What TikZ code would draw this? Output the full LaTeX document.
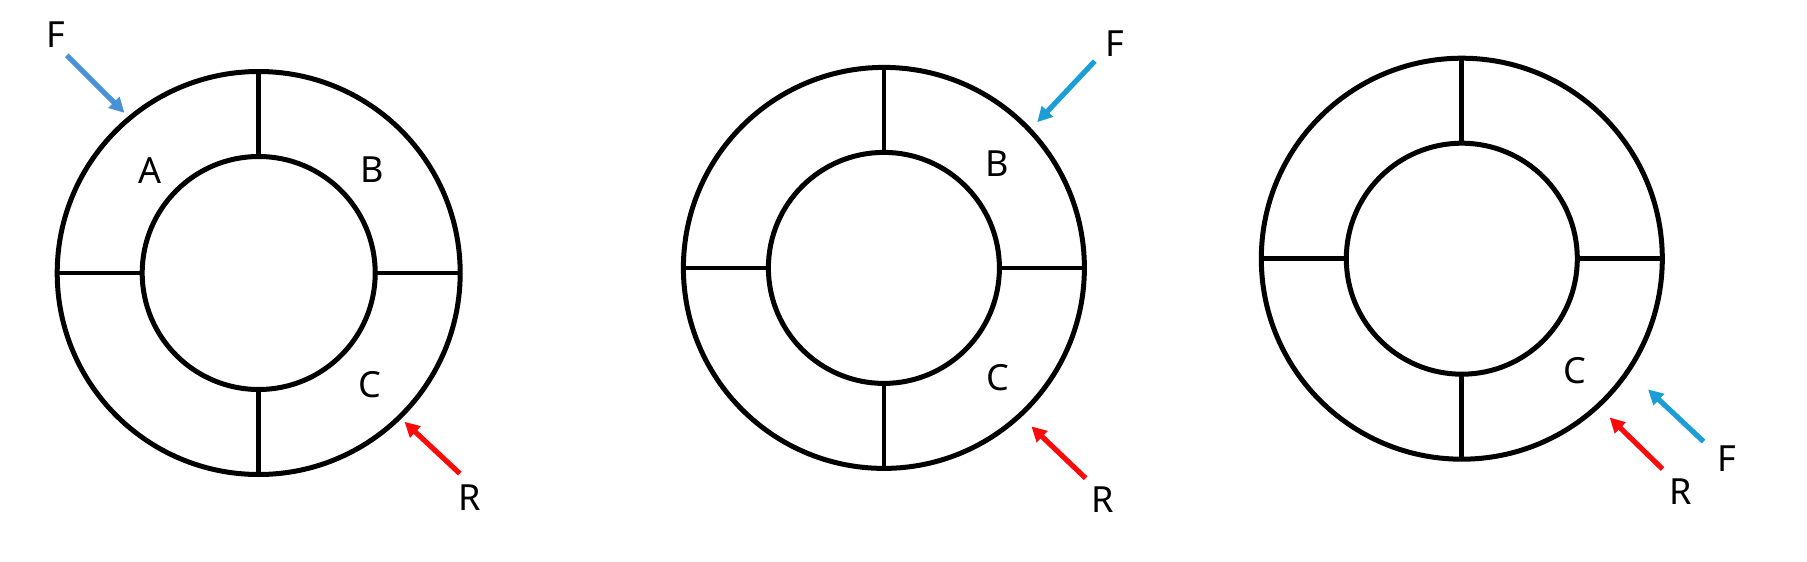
\documentclass[tikz,border=0pt]{standalone}
\usepackage{fontspec}
\setmainfont{Noto Sans}
\usetikzlibrary{arrows.meta}
\definecolor{blueA}{RGB}{74,146,216}
\definecolor{blueB}{RGB}{27,158,214}
\definecolor{redR}{RGB}{250,10,10}
\begin{document}
\begin{tikzpicture}[x=1pt,y=-1pt,
  ring/.style={circle,draw=black,line width=5pt,inner sep=0pt,outer sep=0pt,minimum size=#1},
  spoke/.style={draw=black,line width=4.8pt},
  lbl/.style={inner sep=0pt,font=\fontsize{36}{42}\selectfont},
  force/.style={line width=5.2pt,-{Triangle[length=15pt,width=15pt]}}
]
\useasboundingbox (0,0) rectangle (1807,562);
% ---------- ring 1 ----------
\node[ring=403pt] (o1) at (258.7,273) {};
\node[ring=233pt] (i1) at (258.7,273) {};
\draw[spoke] (i1.north) -- (o1.north);
\draw[spoke] (i1.south) -- (o1.south);
\draw[spoke] (i1.west) -- (o1.west);
\draw[spoke] (i1.east) -- (o1.east);
\node[lbl] (a1) at (150.5,170.6) {A};
\node[lbl] (b1) at (372,169.4) {B};
\node[lbl] (c1) at (369.5,384.9) {C};
\node[lbl] (f1) at (56,34.4) {F};
\node[lbl] (r1) at (470,497.8) {R};
\coordinate (f1s) at (66.8,55.3);
\coordinate (f1e) at (124.5,112.9);
\coordinate (r1s) at (459.8,473.6);
\coordinate (r1e) at (404.5,421.8);
\draw[force,blueA] (f1s) -- (f1e);
\draw[force,redR] (r1s) -- (r1e);
% ---------- ring 2 ----------
\node[ring=401pt] (o2) at (883.9,267.9) {};
\node[ring=231pt] (i2) at (883.9,267.9) {};
\draw[spoke] (i2.north) -- (o2.north);
\draw[spoke] (i2.south) -- (o2.south);
\draw[spoke] (i2.west) -- (o2.west);
\draw[spoke] (i2.east) -- (o2.east);
\node[lbl] (b2) at (997.5,163.6) {B};
\node[lbl] (c2) at (997.5,378) {C};
\node[lbl] (f2) at (1114.5,43.8) {F};
\node[lbl] (r2) at (1102.5,500.1) {R};
\coordinate (f2s) at (1094.8,61.1);
\coordinate (f2e) at (1037.2,122.2);
\coordinate (r2s) at (1085.6,478.2);
\coordinate (r2e) at (1031.4,426.4);
\draw[force,blueB] (f2s) -- (f2e);
\draw[force,redR] (r2s) -- (r2e);
% ---------- ring 3 ----------
\node[ring=401pt] (o3) at (1461.8,258.7) {};
\node[ring=231pt] (i3) at (1461.8,258.7) {};
\draw[spoke] (i3.north) -- (o3.north);
\draw[spoke] (i3.south) -- (o3.south);
\draw[spoke] (i3.west) -- (o3.west);
\draw[spoke] (i3.east) -- (o3.east);
\node[lbl] (c3) at (1574.8,371.1) {C};
\node[lbl] (f3) at (1726.5,458.5) {F};
\node[lbl] (r3) at (1680.8,491.3) {R};
\coordinate (f3s) at (1703.6,441.6);
\coordinate (f3e) at (1648,389.4);
\coordinate (r3s) at (1662.5,469);
\coordinate (r3e) at (1609.6,417.5);
\draw[force,blueB] (f3s) -- (f3e);
\draw[force,redR] (r3s) -- (r3e);
\end{tikzpicture}
\end{document}
